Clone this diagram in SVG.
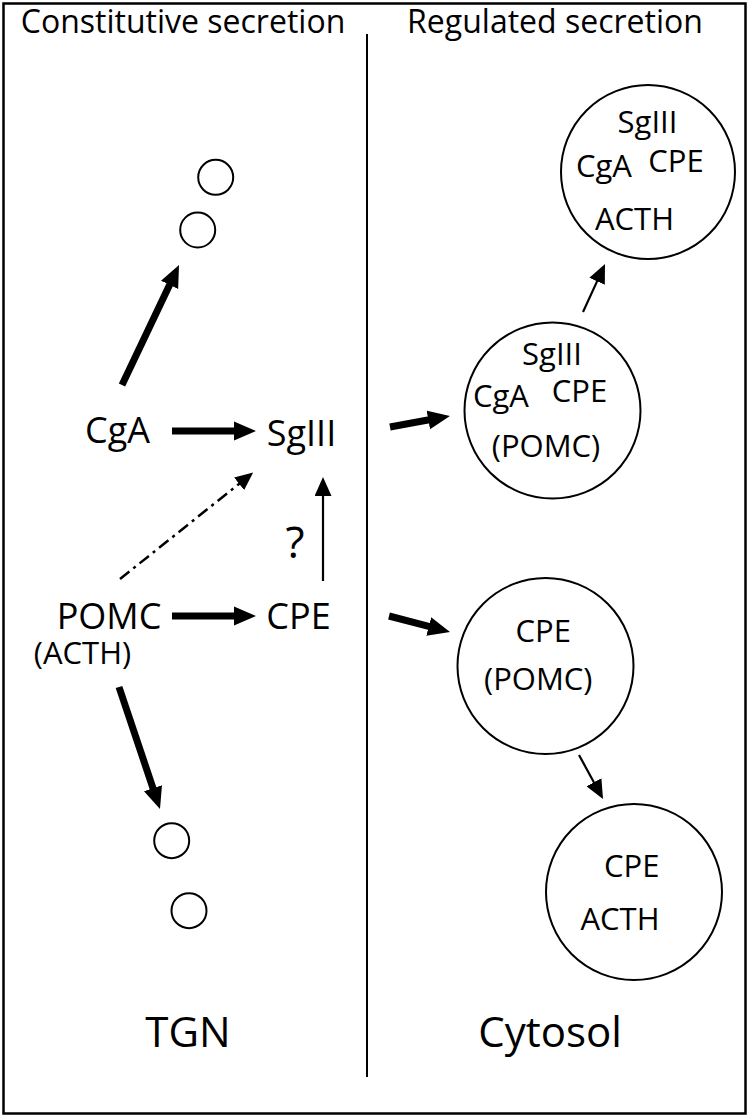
<svg xmlns="http://www.w3.org/2000/svg" width="750" height="1120" viewBox="0 0 750 1120">
<style>
  text { font-family: "Open Sans", "Liberation Sans", sans-serif; fill: #000; text-anchor: middle; }
  .hdr { font-size: 32px; }
  .lbl { font-size: 36px; }
  .sm { font-size: 31px; }
  .q { font-size: 44px; }
  .big { font-size: 42px; }
  .ves { fill: #fff; stroke: #000; stroke-width: 2; }
  .thick { stroke: #000; stroke-width: 7; fill: none; }
  .thin { stroke: #000; stroke-width: 2.2; fill: none; }
  .dd { stroke: #000; stroke-width: 2.5; fill: none; stroke-dasharray: 12 5 3 5; }
</style>
<defs>
  <marker id="hThick" markerUnits="userSpaceOnUse" markerWidth="22" markerHeight="20" viewBox="0 0 22 20" refX="1" refY="10" orient="auto">
    <path d="M0,0.5 L22,10 L0,19.5 z" fill="#000"/>
  </marker>
  <marker id="hThin" markerUnits="userSpaceOnUse" markerWidth="19" markerHeight="17" viewBox="0 0 19 17" refX="1" refY="8.5" orient="auto">
    <path d="M0,0 L19,8.5 L0,17 z" fill="#000"/>
  </marker>
  <marker id="hDd" markerUnits="userSpaceOnUse" markerWidth="18" markerHeight="16" viewBox="0 0 18 16" refX="1" refY="8" orient="auto">
    <path d="M0,0 L18,8 L0,16 z" fill="#000"/>
  </marker>
</defs>

<rect x="3.5" y="3.5" width="742" height="1110" fill="#fff" stroke="#000" stroke-width="2.5"/>
<line x1="367" y1="34" x2="367" y2="1077" stroke="#000" stroke-width="2"/>

<g id="headers">
  <text class="hdr" x="183" y="33">Constitutive secretion</text>
  <text class="hdr" x="555" y="33">Regulated secretion</text>
</g>

<g id="connectors">
  <line class="thick" x1="122" y1="385" x2="170" y2="284" marker-end="url(#hThick)"/>
  <line class="thick" x1="172" y1="431" x2="235" y2="431" marker-end="url(#hThick)"/>
  <line class="thick" x1="172" y1="616" x2="235" y2="616" marker-end="url(#hThick)"/>
  <line class="thick" x1="119" y1="687" x2="153.3" y2="789.1" marker-end="url(#hThick)"/>
  <line class="thick" x1="390" y1="427" x2="429.3" y2="419.8" marker-end="url(#hThick)"/>
  <line class="thick" x1="389" y1="616" x2="429.7" y2="626.7" marker-end="url(#hThick)"/>
  <line class="thin" x1="323" y1="581" x2="323" y2="495" marker-end="url(#hThin)"/>
  <line class="thin" x1="583" y1="312" x2="597.5" y2="280.4" marker-end="url(#hThin)"/>
  <line class="thin" x1="579" y1="755" x2="594.4" y2="783.2" marker-end="url(#hThin)"/>
  <line class="dd" x1="120" y1="579" x2="239.9" y2="483.2" marker-end="url(#hDd)"/>
</g>

<g id="vesicles-constitutive-top">
  <circle class="ves" cx="215.7" cy="177.3" r="17.5"/>
  <circle class="ves" cx="197.7" cy="230" r="17.5"/>
</g>
<g id="vesicles-constitutive-bottom">
  <circle class="ves" cx="171.7" cy="840.7" r="17.5"/>
  <circle class="ves" cx="189" cy="910.7" r="17.5"/>
</g>

<g id="node-CgA"><text class="lbl" x="117.5" y="443">CgA</text></g>
<g id="node-SgIII"><text class="lbl" x="301.5" y="446">SgIII</text></g>
<g id="node-POMC">
  <text class="lbl" x="109" y="629">POMC</text>
  <text class="sm" x="82.5" y="664">(ACTH)</text>
</g>
<g id="node-CPE"><text class="lbl" x="298.5" y="629">CPE</text></g>
<g id="label-q"><text class="q" x="295" y="558">?</text></g>

<g id="granule-mature-top">
  <circle class="ves" cx="648" cy="172" r="87"/>
  <text class="sm" x="647.5" y="133">SgIII</text>
  <text class="sm" x="604" y="177">CgA</text>
  <text class="sm" x="676" y="172">CPE</text>
  <text class="sm" x="634.5" y="230">ACTH</text>
</g>
<g id="granule-immature-mid">
  <circle class="ves" cx="552.5" cy="410.5" r="88"/>
  <text class="sm" x="552" y="365">SgIII</text>
  <text class="sm" x="501" y="407">CgA</text>
  <text class="sm" x="579.5" y="402">CPE</text>
  <text class="sm" x="546" y="457">(POMC)</text>
</g>
<g id="granule-immature-low">
  <circle class="ves" cx="545.5" cy="666" r="88"/>
  <text class="sm" x="543.3" y="642">CPE</text>
  <text class="sm" x="538.3" y="690">(POMC)</text>
</g>
<g id="granule-mature-low">
  <circle class="ves" cx="634" cy="892" r="88"/>
  <text class="sm" x="631.7" y="877">CPE</text>
  <text class="sm" x="620" y="930">ACTH</text>
</g>

<g id="footers">
  <text class="big" x="188" y="1047">TGN</text>
  <text class="big" x="550" y="1047">Cytosol</text>
</g>
</svg>
